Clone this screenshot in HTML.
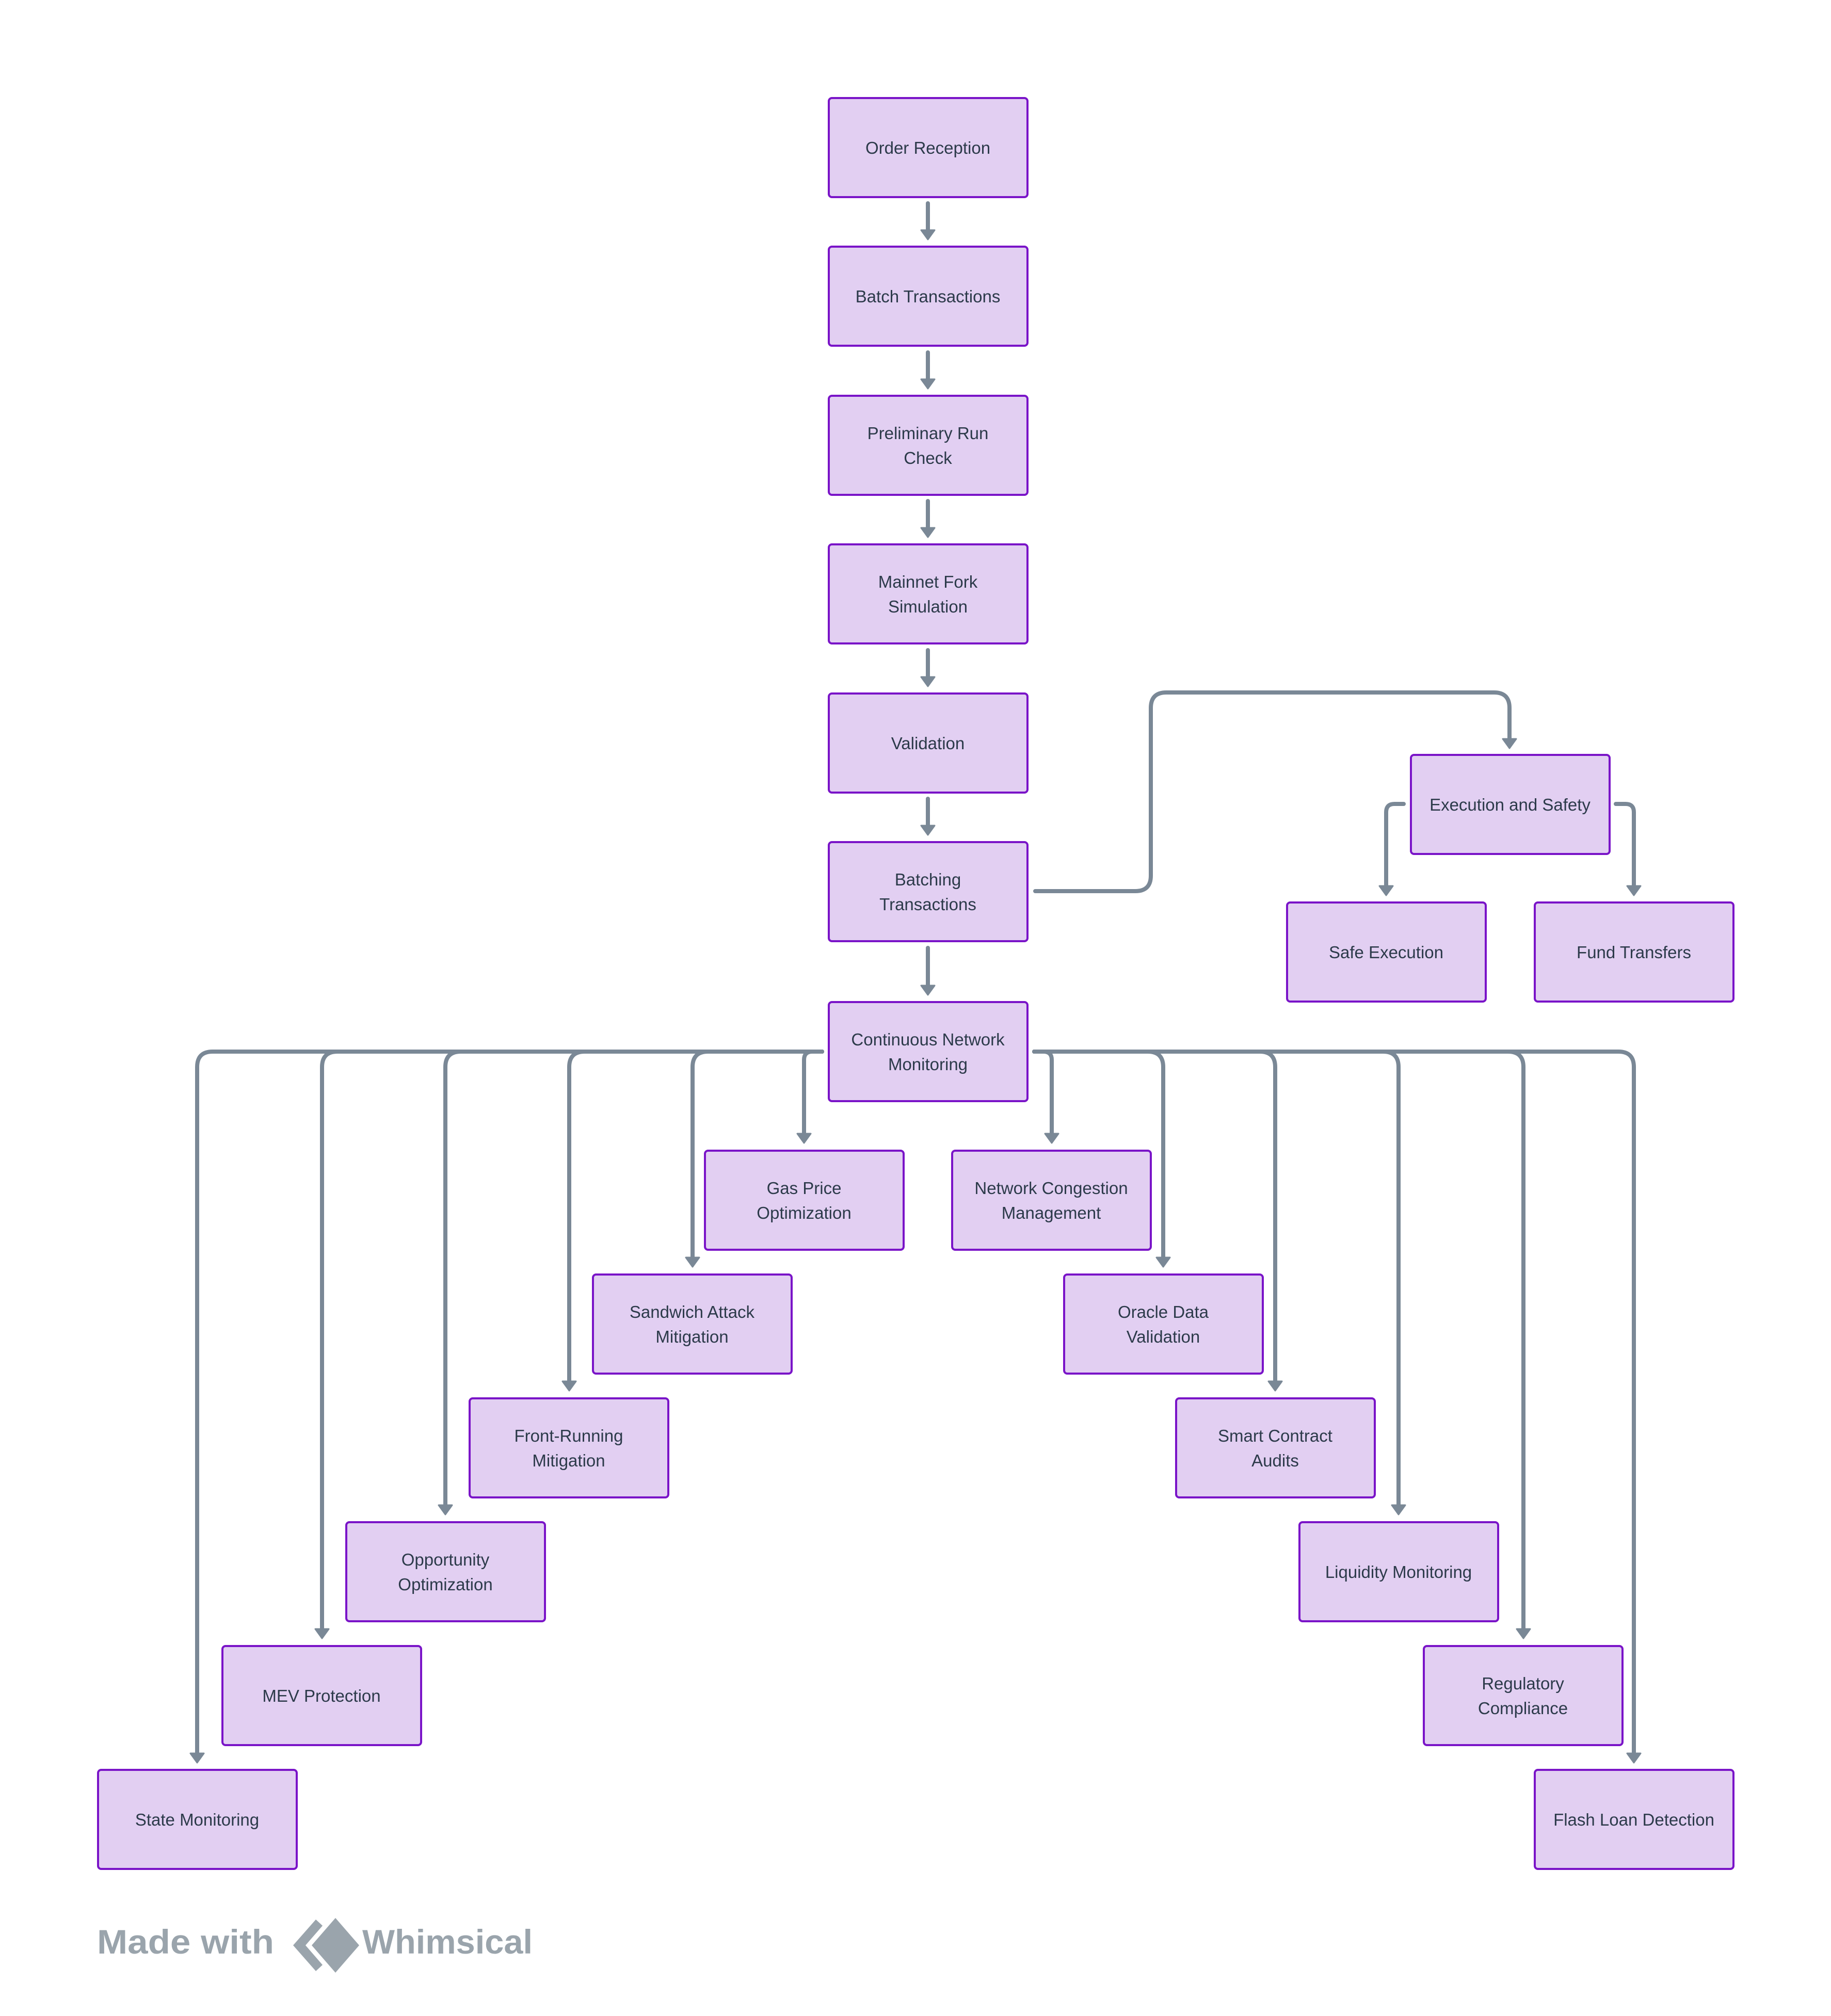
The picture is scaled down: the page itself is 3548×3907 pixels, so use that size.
<!DOCTYPE html>
<html><head><meta charset="utf-8"><style>
html,body{margin:0;padding:0;background:#fff;}
svg{display:block;}
.b{fill:#e2cff2;stroke:#7a14c8;stroke-width:4;}
.t{font-family:"Liberation Sans",sans-serif;font-size:33px;fill:#2c3a4a;text-anchor:middle;}
.c{fill:none;stroke:#7a8896;stroke-width:8;stroke-linecap:round;stroke-linejoin:round;}
.a{fill:#7a8896;stroke:#7a8896;stroke-width:3;stroke-linejoin:round;}
</style></head><body>
<svg width="3548" height="3907" viewBox="0 0 3548 3907" xmlns="http://www.w3.org/2000/svg">
<g id="conn">
<path class="c" d="M1798 394 V446"/><polygon class="a" points="1785,446 1811,446 1798,464"/>
<path class="c" d="M1798 683 V735"/><polygon class="a" points="1785,735 1811,735 1798,753"/>
<path class="c" d="M1798 971 V1023"/><polygon class="a" points="1785,1023 1811,1023 1798,1041"/>
<path class="c" d="M1798 1260 V1312"/><polygon class="a" points="1785,1312 1811,1312 1798,1330"/>
<path class="c" d="M1798 1548 V1600"/><polygon class="a" points="1785,1600 1811,1600 1798,1618"/>
<path class="c" d="M1798 1837 V1910"/><polygon class="a" points="1785,1910 1811,1910 1798,1928"/>
<path class="c" d="M2006 1727 H2200 Q2230 1727 2230 1697 V1372 Q2230 1342 2260 1342 H2895 Q2925 1342 2925 1372 V1432"/>
<polygon class="a" points="2912,1432 2938,1432 2925,1450"/>
<path class="c" d="M2720 1558 H2702 Q2686 1558 2686 1574 V1717"/><polygon class="a" points="2673,1717 2699,1717 2686,1735"/>
<path class="c" d="M3131 1558 H3150 Q3166 1558 3166 1574 V1717"/><polygon class="a" points="3153,1717 3179,1717 3166,1735"/>
<path class="c" d="M1593 2038 H1574 Q1558 2038 1558 2054 V2197"/><polygon class="a" points="1545,2197 1571,2197 1558,2215"/>
<path class="c" d="M1593 2038 H1372 Q1342 2038 1342 2068 V2437"/><polygon class="a" points="1329,2437 1355,2437 1342,2455"/>
<path class="c" d="M1593 2038 H1133 Q1103 2038 1103 2068 V2677"/><polygon class="a" points="1090,2677 1116,2677 1103,2695"/>
<path class="c" d="M1593 2038 H893 Q863 2038 863 2068 V2917"/><polygon class="a" points="850,2917 876,2917 863,2935"/>
<path class="c" d="M1593 2038 H654 Q624 2038 624 2068 V3157"/><polygon class="a" points="611,3157 637,3157 624,3175"/>
<path class="c" d="M1593 2038 H412 Q382 2038 382 2068 V3398"/><polygon class="a" points="369,3398 395,3398 382,3416"/>
<path class="c" d="M2004 2038 H2022 Q2038 2038 2038 2054 V2197"/><polygon class="a" points="2025,2197 2051,2197 2038,2215"/>
<path class="c" d="M2004 2038 H2224 Q2254 2038 2254 2068 V2437"/><polygon class="a" points="2241,2437 2267,2437 2254,2455"/>
<path class="c" d="M2004 2038 H2441 Q2471 2038 2471 2068 V2677"/><polygon class="a" points="2458,2677 2484,2677 2471,2695"/>
<path class="c" d="M2004 2038 H2680 Q2710 2038 2710 2068 V2917"/><polygon class="a" points="2697,2917 2723,2917 2710,2935"/>
<path class="c" d="M2004 2038 H2922 Q2952 2038 2952 2068 V3157"/><polygon class="a" points="2939,3157 2965,3157 2952,3175"/>
<path class="c" d="M2004 2038 H3136 Q3166 2038 3166 2068 V3398"/><polygon class="a" points="3153,3398 3179,3398 3166,3416"/>
</g>
<g>
<rect class="b" x="1606" y="190" width="385" height="192" rx="6"/><text class="t" x="1798" y="298">Order Reception</text>
<rect class="b" x="1606" y="478" width="385" height="192" rx="6"/><text class="t" x="1798" y="586">Batch Transactions</text>
<rect class="b" x="1606" y="767" width="385" height="192" rx="6"/><text class="t" x="1798" y="851">Preliminary Run</text><text class="t" x="1798" y="899">Check</text>
<rect class="b" x="1606" y="1055" width="385" height="192" rx="6"/><text class="t" x="1798" y="1139">Mainnet Fork</text><text class="t" x="1798" y="1187">Simulation</text>
<rect class="b" x="1606" y="1344" width="385" height="192" rx="6"/><text class="t" x="1798" y="1452">Validation</text>
<rect class="b" x="1606" y="1632" width="385" height="192" rx="6"/><text class="t" x="1798" y="1716">Batching</text><text class="t" x="1798" y="1764">Transactions</text>
<rect class="b" x="1606" y="1942" width="385" height="192" rx="6"/><text class="t" x="1798" y="2026">Continuous Network</text><text class="t" x="1798" y="2074">Monitoring</text>

<rect class="b" x="2734" y="1463" width="385" height="192" rx="6"/><text class="t" x="2926" y="1571">Execution and Safety</text>
<rect class="b" x="2494" y="1749" width="385" height="192" rx="6"/><text class="t" x="2686" y="1857">Safe Execution</text>
<rect class="b" x="2974" y="1749" width="385" height="192" rx="6"/><text class="t" x="3166" y="1857">Fund Transfers</text>

<rect class="b" x="1366" y="2230" width="385" height="192" rx="6"/><text class="t" x="1558" y="2314">Gas Price</text><text class="t" x="1558" y="2362">Optimization</text>
<rect class="b" x="1845" y="2230" width="385" height="192" rx="6"/><text class="t" x="2037" y="2314">Network Congestion</text><text class="t" x="2037" y="2362">Management</text>
<rect class="b" x="1149" y="2470" width="385" height="192" rx="6"/><text class="t" x="1341" y="2554">Sandwich Attack</text><text class="t" x="1341" y="2602">Mitigation</text>
<rect class="b" x="2062" y="2470" width="385" height="192" rx="6"/><text class="t" x="2254" y="2554">Oracle Data</text><text class="t" x="2254" y="2602">Validation</text>
<rect class="b" x="910" y="2710" width="385" height="192" rx="6"/><text class="t" x="1102" y="2794">Front-Running</text><text class="t" x="1102" y="2842">Mitigation</text>
<rect class="b" x="2279" y="2710" width="385" height="192" rx="6"/><text class="t" x="2471" y="2794">Smart Contract</text><text class="t" x="2471" y="2842">Audits</text>
<rect class="b" x="671" y="2950" width="385" height="192" rx="6"/><text class="t" x="863" y="3034">Opportunity</text><text class="t" x="863" y="3082">Optimization</text>
<rect class="b" x="2518" y="2950" width="385" height="192" rx="6"/><text class="t" x="2710" y="3058">Liquidity Monitoring</text>
<rect class="b" x="431" y="3190" width="385" height="192" rx="6"/><text class="t" x="623" y="3298">MEV Protection</text>
<rect class="b" x="2759" y="3190" width="385" height="192" rx="6"/><text class="t" x="2951" y="3274">Regulatory</text><text class="t" x="2951" y="3322">Compliance</text>
<rect class="b" x="190" y="3430" width="385" height="192" rx="6"/><text class="t" x="382" y="3538">State Monitoring</text>
<rect class="b" x="2974" y="3430" width="385" height="192" rx="6"/><text class="t" x="3166" y="3538">Flash Loan Detection</text>
</g>
<g fill="#9aa4ac">
<text x="188" y="3786" font-family="Liberation Sans, sans-serif" font-weight="bold" font-size="66" fill="#9aa4ac" textLength="343" lengthAdjust="spacingAndGlyphs">Made with</text>
<path d="M612 3720 L568 3770 L612 3820 L625 3808 L592 3770 L625 3732 Z"/>
<polygon points="650,3717 696,3770 650,3823 604,3770"/>
<text x="702" y="3786" font-family="Liberation Sans, sans-serif" font-weight="bold" font-size="66" fill="#9aa4ac" textLength="330" lengthAdjust="spacingAndGlyphs">Whimsical</text>
</g>
</svg>
</body></html>
